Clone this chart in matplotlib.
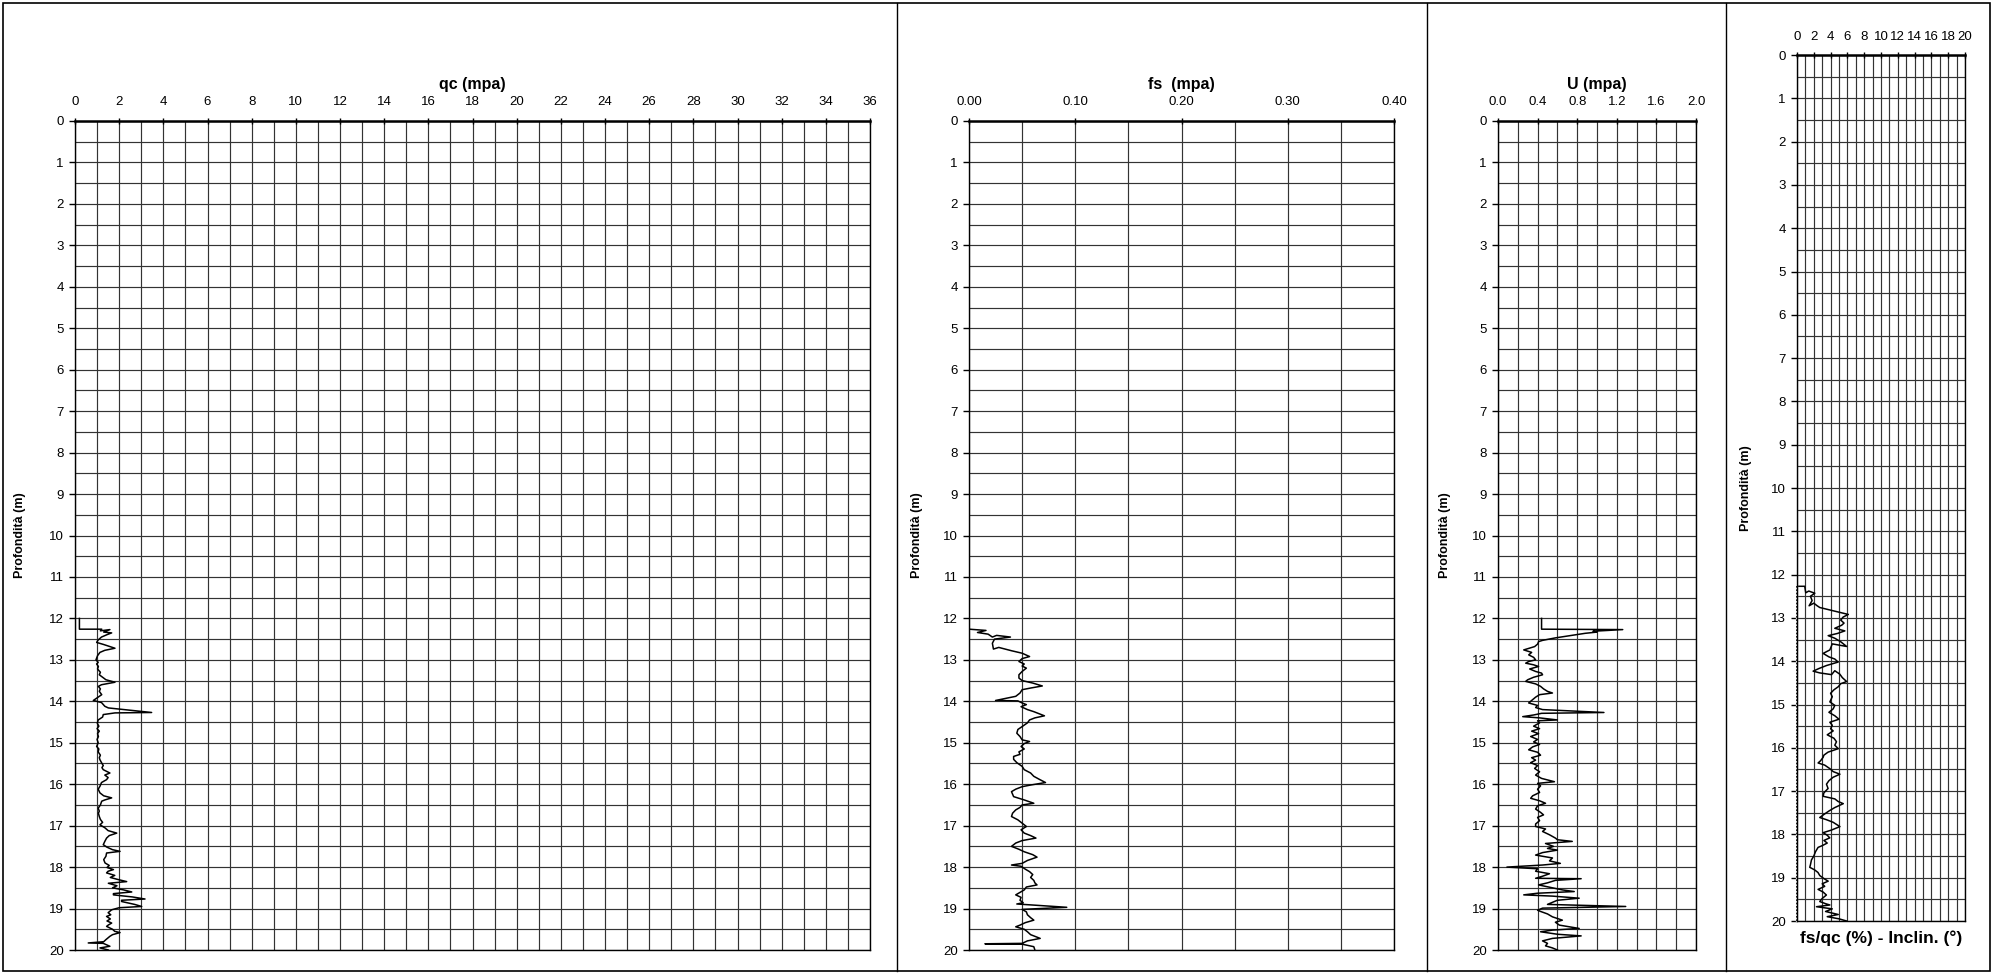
import matplotlib.pyplot as plt
import numpy as np
from matplotlib.lines import Line2D
from matplotlib.patches import Rectangle
from matplotlib.ticker import MultipleLocator, FormatStrFormatter

plt.rcParams['font.family'] = ['Liberation Sans', 'DejaVu Sans']

# --- prova penetrometrica: valori letti per profondità ---
qc_depth = [12.00, 12.26, 12.26, 12.30, 12.27, 12.33, 12.35, 12.39, 12.45, 12.52, 12.58, 12.63,
            12.72, 12.77, 12.82, 12.90, 13.00, 13.06, 13.10, 13.16, 13.22, 13.30, 13.36, 13.42,
            13.48, 13.54, 13.60, 13.64, 13.70, 13.76, 13.84, 13.90, 13.98, 14.03, 14.08, 14.12,
            14.16, 14.19, 14.27, 14.28, 14.32, 14.38, 14.45, 14.53, 14.60, 14.66, 14.72, 14.78,
            14.85, 14.92, 15.00, 15.09, 15.15, 15.22, 15.30, 15.36, 15.41, 15.48, 15.55, 15.60,
            15.65, 15.73, 15.78, 15.84, 15.89, 15.96, 16.05, 16.12, 16.21, 16.28, 16.33, 16.38,
            16.41, 16.50, 16.58, 16.65, 16.70, 16.78, 16.85, 16.92, 16.98, 17.05, 17.12, 17.18,
            17.24, 17.30, 17.38, 17.46, 17.52, 17.58, 17.62, 17.66, 17.74, 17.82, 17.90, 17.96,
            18.01, 18.06, 18.10, 18.14, 18.20, 18.25, 18.30, 18.35, 18.39, 18.45, 18.50, 18.55,
            18.60, 18.64, 18.67, 18.72, 18.77, 18.80, 18.83, 18.90, 18.95, 18.98, 19.03, 19.10,
            19.15, 19.19, 19.25, 19.30, 19.35, 19.40, 19.43, 19.50, 19.55, 19.58, 19.63, 19.67,
            19.75, 19.80, 19.83, 19.84, 19.88, 19.91, 19.95, 20.00]
qc_value = [0.20, 0.20, 1.21, 1.15, 1.58, 1.30, 1.66, 1.46, 1.20, 1.05, 0.98, 1.30,
            1.81, 1.35, 1.13, 1.02, 0.95, 1.05, 0.98, 1.06, 1.02, 1.15, 1.10, 1.25,
            1.40, 1.81, 1.20, 1.06, 1.15, 1.10, 1.21, 1.05, 0.83, 1.20, 1.28, 1.35,
            1.51, 2.04, 3.47, 1.81, 1.28, 1.25, 1.05, 1.01, 1.08, 1.00, 1.10, 1.02,
            1.06, 1.00, 1.05, 0.98, 1.08, 1.05, 1.15, 1.10, 1.13, 1.20, 1.28, 1.22,
            1.28, 1.58, 1.35, 1.50, 1.43, 1.20, 1.13, 1.05, 1.13, 1.30, 1.66, 1.35,
            1.21, 1.15, 1.05, 1.10, 1.06, 1.10, 1.15, 1.25, 1.13, 1.35, 1.50, 1.89,
            1.55, 1.43, 1.35, 1.28, 1.45, 1.70, 2.04, 1.43, 1.40, 1.30, 1.36, 1.55,
            1.45, 1.74, 1.50, 1.43, 1.80, 1.60, 1.95, 2.34, 1.51, 1.90, 1.70, 2.20,
            2.57, 1.74, 1.74, 2.60, 3.17, 2.11, 2.11, 2.70, 3.02, 2.00, 1.66, 1.50,
            1.62, 1.43, 1.60, 1.45, 1.66, 1.50, 1.43, 1.70, 1.80, 2.04, 1.70, 1.58,
            1.40, 1.30, 0.60, 1.28, 1.45, 1.58, 1.13, 1.51]

fs_depth = [12.26, 12.29, 12.34, 12.38, 12.45, 12.41, 12.45, 12.50, 12.60, 12.74, 12.70, 12.78,
            12.84, 12.92, 12.97, 13.04, 13.10, 13.15, 13.20, 13.28, 13.36, 13.44, 13.50, 13.56,
            13.63, 13.68, 13.72, 13.80, 13.88, 13.98, 13.99, 14.04, 14.08, 14.13, 14.20, 14.25,
            14.31, 14.35, 14.40, 14.45, 14.52, 14.61, 14.68, 14.77, 14.85, 14.93, 14.97, 15.02,
            15.09, 15.15, 15.22, 15.28, 15.33, 15.40, 15.48, 15.57, 15.65, 15.73, 15.81, 15.88,
            15.96, 16.02, 16.06, 16.12, 16.18, 16.24, 16.30, 16.38, 16.46, 16.50, 16.56, 16.62,
            16.70, 16.78, 16.86, 16.94, 17.02, 17.10, 17.18, 17.24, 17.30, 17.36, 17.42, 17.50,
            17.57, 17.63, 17.70, 17.76, 17.84, 17.91, 17.95, 17.98, 18.05, 18.11, 18.18, 18.25,
            18.32, 18.38, 18.43, 18.48, 18.55, 18.61, 18.67, 18.73, 18.80, 18.86, 18.89, 18.91,
            18.97, 19.02, 19.08, 19.15, 19.22, 19.28, 19.34, 19.40, 19.44, 19.50, 19.56, 19.63,
            19.72, 19.78, 19.84, 19.85, 19.86, 19.92, 20.00]
fs_value = [0.000, 0.016, 0.008, 0.018, 0.022, 0.026, 0.039, 0.024, 0.022, 0.023, 0.028, 0.040,
            0.050, 0.057, 0.050, 0.047, 0.052, 0.050, 0.054, 0.050, 0.047, 0.047, 0.050, 0.060,
            0.069, 0.058, 0.050, 0.048, 0.044, 0.025, 0.046, 0.050, 0.054, 0.049, 0.055, 0.061,
            0.067, 0.071, 0.062, 0.057, 0.055, 0.050, 0.046, 0.045, 0.048, 0.050, 0.057, 0.052,
            0.049, 0.052, 0.047, 0.048, 0.042, 0.042, 0.045, 0.050, 0.052, 0.058, 0.061, 0.066,
            0.072, 0.058, 0.050, 0.044, 0.040, 0.041, 0.042, 0.052, 0.061, 0.050, 0.048, 0.044,
            0.041, 0.040, 0.046, 0.050, 0.054, 0.049, 0.052, 0.058, 0.063, 0.050, 0.044, 0.040,
            0.047, 0.052, 0.060, 0.064, 0.055, 0.050, 0.040, 0.049, 0.053, 0.057, 0.060, 0.058,
            0.061, 0.062, 0.064, 0.054, 0.052, 0.048, 0.044, 0.049, 0.048, 0.051, 0.045, 0.057,
            0.092, 0.050, 0.054, 0.055, 0.058, 0.061, 0.053, 0.048, 0.044, 0.052, 0.055, 0.058,
            0.067, 0.055, 0.050, 0.015, 0.050, 0.061, 0.062]

u_depth = [12.00, 12.26, 12.27, 12.31, 12.33, 12.36, 12.42, 12.47, 12.53, 12.56, 12.62, 12.68,
           12.76, 12.82, 12.88, 12.94, 13.00, 13.04, 13.08, 13.12, 13.16, 13.22, 13.28, 13.32,
           13.36, 13.42, 13.48, 13.52, 13.58, 13.64, 13.70, 13.76, 13.80, 13.84, 13.90, 13.98,
           14.04, 14.10, 14.15, 14.20, 14.27, 14.29, 14.33, 14.37, 14.40, 14.45, 14.47, 14.52,
           14.60, 14.66, 14.72, 14.78, 14.85, 14.92, 14.98, 15.04, 15.10, 15.17, 15.23, 15.30,
           15.36, 15.42, 15.48, 15.55, 15.62, 15.70, 15.78, 15.86, 15.94, 15.98, 16.04, 16.12,
           16.20, 16.28, 16.34, 16.40, 16.46, 16.52, 16.60, 16.68, 16.74, 16.80, 16.88, 16.96,
           17.02, 17.08, 17.14, 17.22, 17.30, 17.34, 17.38, 17.43, 17.50, 17.55, 17.59, 17.65,
           17.71, 17.78, 17.85, 17.91, 17.95, 18.00, 18.04, 18.10, 18.16, 18.22, 18.27, 18.28,
           18.32, 18.38, 18.43, 18.50, 18.55, 18.59, 18.63, 18.67, 18.70, 18.75, 18.80, 18.85,
           18.90, 18.95, 18.99, 19.04, 19.07, 19.13, 19.20, 19.28, 19.33, 19.40, 19.48, 19.52,
           19.56, 19.62, 19.66, 19.72, 19.78, 19.84, 19.90, 19.95, 20.00]
u_value = [0.44, 0.44, 1.26, 0.96, 1.00, 0.88, 0.72, 0.58, 0.45, 0.41, 0.40, 0.37,
           0.26, 0.34, 0.31, 0.36, 0.38, 0.31, 0.28, 0.36, 0.41, 0.32, 0.38, 0.44,
           0.45, 0.36, 0.30, 0.28, 0.38, 0.43, 0.46, 0.50, 0.55, 0.42, 0.38, 0.34,
           0.31, 0.40, 0.38, 0.45, 1.07, 0.44, 0.36, 0.25, 0.42, 0.60, 0.40, 0.42,
           0.36, 0.42, 0.34, 0.41, 0.33, 0.40, 0.36, 0.42, 0.35, 0.31, 0.40, 0.43,
           0.34, 0.38, 0.33, 0.40, 0.37, 0.42, 0.38, 0.44, 0.57, 0.40, 0.43, 0.40,
           0.42, 0.35, 0.33, 0.42, 0.48, 0.40, 0.38, 0.43, 0.46, 0.40, 0.42, 0.38,
           0.38, 0.48, 0.45, 0.52, 0.58, 0.60, 0.75, 0.48, 0.56, 0.50, 0.60, 0.45,
           0.38, 0.55, 0.52, 0.63, 0.45, 0.09, 0.40, 0.38, 0.52, 0.45, 0.38, 0.84,
           0.58, 0.50, 0.41, 0.55, 0.65, 0.77, 0.40, 0.26, 0.55, 0.82, 0.60, 0.55,
           0.50, 1.29, 0.45, 0.40, 0.43, 0.50, 0.55, 0.65, 0.58, 0.62, 0.82, 0.55,
           0.43, 0.60, 0.84, 0.55, 0.45, 0.50, 0.48, 0.55, 0.60]

rf_depth = [12.27, 12.27, 12.42, 12.38, 12.43, 12.50, 12.60, 12.72, 12.66, 12.72, 12.76, 12.84,
            12.92, 12.98, 13.05, 13.12, 13.17, 13.24, 13.30, 13.36, 13.41, 13.47, 13.55, 13.66,
            13.60, 13.74, 13.82, 13.90, 13.95, 14.02, 14.10, 14.17, 14.23, 14.27, 14.31, 14.22,
            14.30, 14.38, 14.47, 14.52, 14.59, 14.66, 14.74, 14.82, 14.94, 15.02, 15.10, 15.18,
            15.26, 15.34, 15.41, 15.48, 15.56, 15.61, 15.70, 15.78, 15.86, 15.94, 16.02, 16.10,
            16.17, 16.22, 16.30, 16.35, 16.40, 16.48, 16.55, 16.61, 16.68, 16.76, 16.84, 16.94,
            17.04, 17.12, 17.18, 17.24, 17.29, 17.38, 17.46, 17.54, 17.61, 17.66, 17.72, 17.82,
            17.90, 17.96, 18.02, 18.08, 18.14, 18.20, 18.26, 18.30, 18.40, 18.50, 18.59, 18.70,
            18.76, 18.82, 18.88, 18.95, 19.02, 19.08, 19.14, 19.20, 19.27, 19.33, 19.40, 19.48,
            19.55, 19.60, 19.63, 19.67, 19.72, 19.78, 19.85, 19.90, 19.95, 20.00]
rf_value = [0.00, 0.92, 1.04, 1.40, 2.12, 1.60, 1.80, 1.44, 2.00, 2.40, 2.71, 4.40,
            6.11, 5.50, 5.20, 5.60, 5.31, 4.50, 5.70, 4.80, 3.71, 4.50, 5.20, 5.91,
            4.20, 3.91, 3.11, 3.80, 4.50, 4.90, 3.51, 2.60, 1.92, 2.70, 4.11, 4.50,
            5.10, 5.40, 5.91, 5.20, 4.91, 4.40, 4.00, 4.20, 3.91, 4.50, 4.31, 3.80,
            4.50, 5.00, 3.91, 4.20, 4.00, 4.31, 3.60, 4.40, 4.70, 4.50, 4.91, 3.70,
            3.20, 3.11, 2.80, 2.51, 3.30, 3.90, 4.31, 5.11, 4.30, 3.80, 3.51, 3.70,
            3.20, 3.11, 4.50, 4.90, 5.51, 4.50, 3.80, 3.20, 2.71, 3.50, 4.30, 5.11,
            4.10, 3.11, 3.60, 3.90, 3.20, 3.60, 3.00, 2.51, 2.20, 2.00, 1.72, 1.60,
            1.52, 2.10, 2.50, 2.71, 3.20, 3.71, 3.00, 3.30, 2.51, 3.10, 3.50, 3.00,
            2.71, 3.40, 3.91, 2.32, 4.20, 3.40, 4.91, 3.60, 5.00, 5.91]

incl_depth = [12.27, 20.00]
incl_value = [0.0, 0.0]

W, H = 1993, 974
fig = plt.figure(figsize=(W / 100, H / 100), dpi=100)


def px_axes(x0, x1, y0, y1):
    return fig.add_axes([x0 / W, 1 - y1 / H, (x1 - x0) / W, (y1 - y0) / H])


def style_panel(ax, xmax, xmajor, xminor, fmt):
    ax.set_xlim(0, xmax)
    ax.set_ylim(20, 0)
    ax.xaxis.set_major_locator(MultipleLocator(xmajor))
    ax.xaxis.set_minor_locator(MultipleLocator(xminor))
    ax.xaxis.set_major_formatter(FormatStrFormatter(fmt))
    ax.yaxis.set_major_locator(MultipleLocator(1))
    ax.yaxis.set_minor_locator(MultipleLocator(0.5))
    ax.xaxis.tick_top()
    ax.tick_params(axis='x', which='major', direction='inout', length=5, width=1,
                   labelsize=9.5, pad=7)
    ax.tick_params(axis='x', which='minor', length=0)
    ax.tick_params(axis='y', which='major', direction='out', length=4, width=1,
                   labelsize=9.5, pad=4)
    ax.tick_params(axis='y', which='minor', length=0)
    ax.grid(True, which='both', axis='both', color='#333333', linewidth=0.85)
    ax.set_axisbelow(True)
    for s in ax.spines.values():
        s.set_linewidth(1.0)
    ax.spines['top'].set_linewidth(1.8)


ax_qc = px_axes(75, 870, 121, 950)
style_panel(ax_qc, 36, 2, 1, '%d')
ax_qc.plot(qc_value, qc_depth, color='black', lw=1.1)

ax_fs = px_axes(969, 1394, 121, 950)
style_panel(ax_fs, 0.40, 0.10, 0.05, '%.2f')
ax_fs.plot(fs_value, fs_depth, color='black', lw=1.1)

ax_u = px_axes(1498, 1696, 121, 950)
style_panel(ax_u, 2.0, 0.4, 0.2, '%.1f')
ax_u.plot(u_value, u_depth, color='black', lw=1.1)

ax_rf = px_axes(1797, 1965, 55, 921)
style_panel(ax_rf, 20, 2, 1, '%d')
ax_rf.tick_params(axis='x', which='major', pad=6)
ax_rf.plot(rf_value, rf_depth, color='black', lw=1.1)
ax_rf.plot(incl_value, incl_depth, color='white', lw=1.6, clip_on=False)
ax_rf.plot(incl_value, incl_depth, color='black', lw=1.2, ls=(0, (1, 1)), clip_on=False)
ax_rf.set_xlabel('fs/qc (%) - Inclin. (°)', fontsize=12.5, fontweight='bold', labelpad=7)

# titoli dei pannelli
for ax, title in [(ax_qc, 'qc (mpa)'), (ax_fs, 'fs  (mpa)'), (ax_u, 'U (mpa)')]:
    b = ax.get_position()
    fig.text(b.x0 + b.width / 2, 1 - 84 / H, title, ha='center', va='center',
             fontsize=11.5, fontweight='bold')

# etichette profondità
for xpx, ax in [(20, ax_qc), (917, ax_fs), (1445, ax_u), (1746, ax_rf)]:
    b = ax.get_position()
    fig.text(xpx / W, b.y0 + b.height / 2, 'Profondità (m)', rotation=90,
             ha='center', va='center', fontsize=9, fontweight='bold')

# cornice esterna e separatori
fig.add_artist(Rectangle((3 / W, 3 / H), 1987 / W, 968 / H, transform=fig.transFigure,
                         fill=False, edgecolor='black', linewidth=1.2))
for xpx in [897, 1427, 1726]:
    fig.add_artist(Line2D([xpx / W, xpx / W], [3 / H, 971 / H], transform=fig.transFigure,
                          color='black', linewidth=1.0))

fig.savefig('out.png', dpi=100)
